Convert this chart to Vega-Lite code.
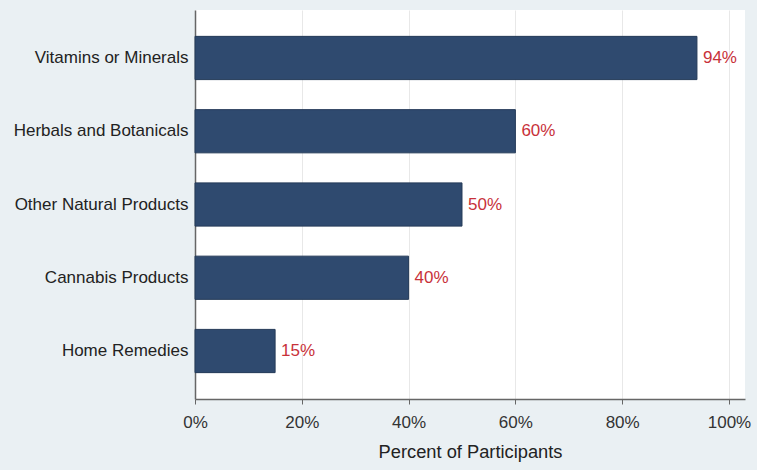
{
  "$schema": "https://vega.github.io/schema/vega-lite/v6.json",
  "width": 550,
  "height": 389,
  "autosize": {"type": "none"},
  "padding": {"left": 195, "top": 10, "right": 12, "bottom": 71},
  "background": "#EAF0F3",
  "config": {
    "font": "Liberation Sans",
    "view": {"fill": "white", "stroke": null}
  },
  "data": {
    "values": [
      {"category": "Vitamins or Minerals", "percent": 94, "label": "94%"},
      {"category": "Herbals and Botanicals", "percent": 60, "label": "60%"},
      {"category": "Other Natural Products", "percent": 50, "label": "50%"},
      {"category": "Cannabis Products", "percent": 40, "label": "40%"},
      {"category": "Home Remedies", "percent": 15, "label": "15%"}
    ]
  },
  "encoding": {
    "y": {
      "field": "category",
      "type": "nominal",
      "sort": null,
      "scale": {"paddingInner": 0.41, "paddingOuter": 0.36},
      "axis": {
        "title": null,
        "ticks": false,
        "labelFontSize": 17,
        "labelColor": "#222222",
        "labelPadding": 7,
        "labelLimit": 200,
        "domainColor": "#666666",
        "domainWidth": 1.5
      }
    },
    "x": {
      "field": "percent",
      "type": "quantitative",
      "scale": {"domain": [0, 103], "nice": false},
      "axis": {
        "title": "Percent of Participants",
        "titleFontSize": 18.3,
        "titleFontWeight": "normal",
        "titleColor": "#222222",
        "titlePadding": 13,
        "values": [0, 20, 40, 60, 80, 100],
        "labelExpr": "datum.value + '%'",
        "labelFontSize": 17,
        "labelColor": "#333333",
        "labelPadding": 10,
        "tickSize": 5,
        "tickColor": "#666666",
        "domainColor": "#666666",
        "domainWidth": 1.5,
        "gridColor": "#E8E8E8",
        "labelFlush": false
      }
    }
  },
  "layer": [
    {
      "mark": {"type": "bar", "color": "#2F4A6F", "stroke": "#243A58", "strokeWidth": 1}
    },
    {
      "mark": {"type": "text", "align": "left", "dx": 6, "fontSize": 17, "color": "#C8313A"},
      "encoding": {
        "text": {"field": "label", "type": "nominal"}
      }
    }
  ]
}
